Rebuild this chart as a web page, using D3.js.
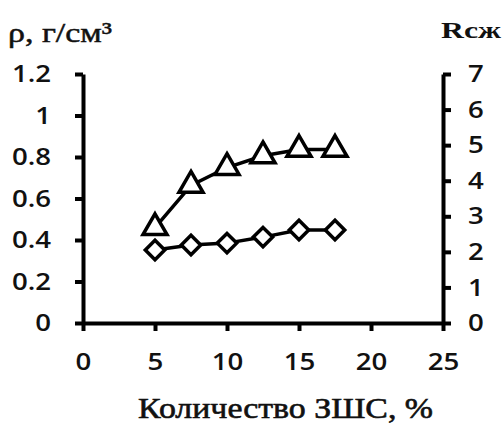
<!DOCTYPE html>
<html>
<head>
<meta charset="utf-8">
<script src="https://cdn.jsdelivr.net/npm/d3@7"></script>
<style>
  body { margin: 0; background: #fff; }
  .tick text { font-family: "Open Sans", "Liberation Sans", sans-serif; font-weight: 600; font-size: 24px; fill: #111; }
  .ttl { font-family: "Liberation Serif", "DejaVu Serif", serif; font-weight: 700; fill: #111; }
</style>
</head>
<body>
<svg id="chart" width="504" height="425"></svg>
<script>
  'use strict';

  // data
  var xValues = [5, 7.5, 10, 12.5, 15, 17.5];
  var density = [0.352, 0.376, 0.385, 0.414, 0.448, 0.448];   // ρ, left axis
  var strength = [2.68, 3.87, 4.37, 4.70, 4.88, 4.88];         // Rсж, right axis
  var xTicks = [0, 5, 10, 15, 20, 25];
  var leftTicks = [0, 0.2, 0.4, 0.6, 0.8, 1, 1.2];
  var rightTicks = [0, 1, 2, 3, 4, 5, 6, 7];

  var svg = d3.select('#chart');
  var stretch = 1.15;   // scanned labels are a bit wider than the font

  var x = d3.scaleLinear().domain([0, 25]).range([83, 443]);
  var yL = d3.scaleLinear().domain([0, 1.2]).range([323, 74]);
  var yR = d3.scaleLinear().domain([0, 7]).range([323, 74]);

  function styleAxis(g) {
    g.select('.domain').attr('stroke', '#000').attr('stroke-width', 4);
    g.selectAll('.tick line').attr('stroke', '#000').attr('stroke-width', 4);
  }

  // axes
  svg.append('g')
    .attr('transform', 'translate(0,323)')
    .call(d3.axisBottom(x).tickValues(xTicks).tickFormat(d3.format('d'))
      .tickSizeInner(8).tickSizeOuter(0))
    .call(styleAxis)
    .selectAll('.tick text')
      .attr('y', 30)
      .attr('transform', 'scale(' + stretch + ',1)');

  svg.append('g')
    .attr('transform', 'translate(83,0)')
    .call(d3.axisLeft(yL).tickValues(leftTicks)
      .tickFormat(function(d) { return d === 0 || d === 1 ? d : d3.format('.1f')(d); })
      .tickSizeInner(8).tickSizeOuter(0))
    .call(styleAxis)
    .selectAll('.tick text')
      .attr('x', -32 / stretch)
      .attr('transform', 'scale(' + stretch + ',1)');

  svg.append('g')
    .attr('transform', 'translate(443,0)')
    .call(d3.axisRight(yR).tickValues(rightTicks).tickFormat(d3.format('d'))
      .tickSizeInner(8).tickSizeOuter(0))
    .call(styleAxis)
    .selectAll('.tick text')
      .attr('x', 25 / stretch)
      .attr('transform', 'scale(' + stretch + ',1)');

  // titles
  svg.append('text').attr('class', 'ttl').attr('x', 8).attr('y', 42)
    .style('font-size', '28px').style('font-weight', 400)
    .attr('stroke', '#111').attr('stroke-width', 0.5)
    .attr('textLength', 104).attr('lengthAdjust', 'spacingAndGlyphs')
    .text('ρ, г/см³');
  svg.append('text').attr('class', 'ttl').attr('x', 441).attr('y', 38)
    .style('font-size', '24px')
    .attr('textLength', 60).attr('lengthAdjust', 'spacingAndGlyphs')
    .text('Rсж');
  svg.append('text').attr('class', 'ttl').attr('x', 138).attr('y', 418)
    .style('font-size', '29px').style('font-weight', 400)
    .attr('stroke', '#111').attr('stroke-width', 0.6)
    .attr('textLength', 295).attr('lengthAdjust', 'spacingAndGlyphs')
    .text('Количество ЗШС, %');

  // density series (diamonds)
  var lineL = d3.line().x(function(d, i) { return x(xValues[i]); }).y(function(d) { return yL(d); });
  svg.append('path').datum(density).attr('d', lineL)
    .attr('fill', 'none').attr('stroke', '#000').attr('stroke-width', 3.5);
  svg.selectAll('.dia').data(density).enter().append('path')
    .attr('class', 'dia')
    .attr('transform', function(d, i) { return 'translate(' + x(xValues[i]) + ',' + yL(d) + ')'; })
    .attr('d', d3.symbol().type(d3.symbolDiamond2).size(240))
    .attr('fill', '#fff').attr('stroke', '#000').attr('stroke-width', 3.5);

  // strength series (triangles)
  var lineR = d3.line().x(function(d, i) { return x(xValues[i]); }).y(function(d) { return yR(d); });
  svg.append('path').datum(strength).attr('d', lineR)
    .attr('fill', 'none').attr('stroke', '#000').attr('stroke-width', 3.5);
  svg.selectAll('.tri').data(strength).enter().append('path')
    .attr('class', 'tri')
    .attr('transform', function(d, i) { return 'translate(' + x(xValues[i]) + ',' + yR(d) + ')'; })
    .attr('d', d3.symbol().type(d3.symbolTriangle).size(250))
    .attr('fill', '#fff').attr('stroke', '#000').attr('stroke-width', 3.5);
</script>
</body>
</html>
